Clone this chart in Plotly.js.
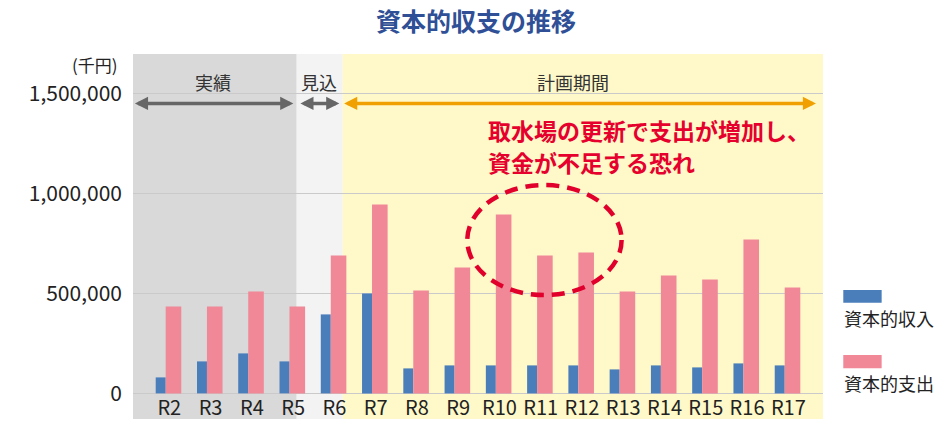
<!DOCTYPE html>
<html>
<head>
<meta charset="utf-8">
<script src="https://cdn.plot.ly/plotly-3.0.1.min.js"></script>
<style>html,body{margin:0;padding:0;background:#fff;}#chart{width:938px;height:424px;}</style>
</head>
<body>
<div id="chart"></div>
<script>
// ---- data (千円) ----
const categories = ['R2','R3','R4','R5','R6','R7','R8','R9','R10','R11','R12','R13','R14','R15','R16','R17'];
const incomeName = '資本的収入';
const expenseName = '資本的支出';
const capitalIncome  = [80000,160000,200000,160000,395000,500000,125000,140000,140000,140000,140000,120000,140000,130000,150000,140000];
const capitalExpense = [435000,435000,510000,435000,690000,945000,515000,630000,895000,690000,705000,510000,590000,570000,770000,530000];
const yTickVals = [0, 500000, 1000000, 1500000];
const periodLabels = ['実績', '見込', '計画期間'];
const unitLabel = '(千円)';
const titleText = '資本的収支の推移';
const noteLines = ['取水場の更新で支出が増加し、', '資金が不足する恐れ'];

// ---- layout constants ----
const FONT = '"Noto Sans CJK JP", "Noto Sans", sans-serif';
const xRange = [-0.88, 15.84];
const yRange = [-128000, 1697000];
const actualEnd = 3.087, estimateEnd = 4.202;
const arrowY = 1450000, labelY = 1555000;

const traces = [
  {type:'bar', name:incomeName, x:categories, y:capitalIncome, offset:-0.33, width:0.242,
   marker:{color:'#4a7ebb'}, hoverinfo:'skip', showlegend:false},
  {type:'bar', name:expenseName, x:categories, y:capitalExpense, offset:-0.088, width:0.378,
   marker:{color:'#f08898'}, hoverinfo:'skip', showlegend:false}
];

function arrow(x0, x1, color, w){
  return {x:x1, y:arrowY, ax:x0, ay:arrowY, xref:'x', yref:'y', axref:'x', ayref:'y',
    text:'', showarrow:true, arrowhead:2, startarrowhead:2, arrowside:'end+start',
    arrowsize:0.75, startarrowsize:0.75, arrowwidth:w, arrowcolor:color, standoff:0, startstandoff:0};
}
function label(txt, x){
  return {x:x, y:labelY, xref:'x', yref:'y', text:txt, showarrow:false,
    font:{family:FONT, size:18, color:'#333333'}, xanchor:'center', yanchor:'middle'};
}
function note(txt, y){
  return {x:7.674, y:y, xref:'x', yref:'y', text:'<b>'+txt+'</b>', showarrow:false, align:'left',
    xanchor:'left', yanchor:'middle', font:{family:FONT, size:23, color:'#e5002d'}};
}

const layout = {
  width:938, height:424,
  margin:{l:133, r:115, t:54, b:5},
  paper_bgcolor:'#ffffff', plot_bgcolor:'rgba(0,0,0,0)',
  barmode:'overlay',
  showlegend:false,
  title:{text:'<b>'+titleText+'</b>', x:476/938, xref:'container', xanchor:'center',
    y:1-22/424, yref:'container', yanchor:'middle',
    font:{family:FONT, size:25, color:'#2f4f96'}},
  xaxis:{type:'category', range:xRange, anchor:'free',
    position:(0 - yRange[0])/(yRange[1]-yRange[0]),
    showgrid:false, zeroline:false, showline:false, ticks:'',
    tickfont:{family:FONT, size:20, color:'#222222'}, ticklabelstandoff:1},
  yaxis:{range:yRange, tickvals:yTickVals, tickformat:',d', showgrid:true, gridcolor:'#cacaca',
    gridwidth:1.5, zeroline:false, showline:false, ticks:'', ticklabelstandoff:10,
    tickfont:{family:FONT, size:21, color:'#222222'}},
  shapes:[
    {type:'rect', xref:'x', yref:'paper', x0:xRange[0], x1:actualEnd, y0:0, y1:1, fillcolor:'#d9d9d9', line:{width:0}, layer:'below'},
    {type:'rect', xref:'x', yref:'paper', x0:actualEnd, x1:estimateEnd, y0:0, y1:1, fillcolor:'#f3f3f3', line:{width:0}, layer:'below'},
    {type:'rect', xref:'x', yref:'paper', x0:estimateEnd, x1:xRange[1], y0:0, y1:1, fillcolor:'#fff9c9', line:{width:0}, layer:'below'},
    {type:'circle', xref:'x', yref:'y', x0:7.22, x1:10.96, y0:491500, y1:1041500,
      line:{color:'#e0002b', width:4.5, dash:'13px,8px'}, fillcolor:'rgba(0,0,0,0)', layer:'above'},
    // custom legend swatches
    {type:'rect', xref:'paper', yref:'paper', x0:1.0294, x1:1.085, y0:0.3186, y1:0.3534, fillcolor:'#4a7ebb', line:{width:0}},
    {type:'rect', xref:'paper', yref:'paper', x0:1.0294, x1:1.085, y0:0.1389, y1:0.1753, fillcolor:'#f08898', line:{width:0}}
  ],
  annotations:[
    arrow(-0.87, 3.005, '#666666', 3.5),
    arrow(3.14, 4.12, '#666666', 3.5),
    arrow(4.20, 15.67, '#f0a000', 3.5),
    label(periodLabels[0], 1.066),
    label(periodLabels[1], 3.627),
    label(periodLabels[2], 9.79),
    note(noteLines[0], 1316500),
    note(noteLines[1], 1158000),
    {x:-0.0188, y:0.9699, xref:'paper', yref:'paper', text:unitLabel, showarrow:false,
      xanchor:'right', yanchor:'middle', font:{family:FONT, size:17, color:'#222222'}},
    {x:1.0275, y:0.2759, xref:'paper', yref:'paper', text:incomeName, showarrow:false,
      xanchor:'left', yanchor:'middle', font:{family:FONT, size:18, color:'#222222'}},
    {x:1.0275, y:0.0978, xref:'paper', yref:'paper', text:expenseName, showarrow:false,
      xanchor:'left', yanchor:'middle', font:{family:FONT, size:18, color:'#222222'}}
  ]
};

Plotly.newPlot('chart', traces, layout, {staticPlot:true, displayModeBar:false});
</script>
</body>
</html>
